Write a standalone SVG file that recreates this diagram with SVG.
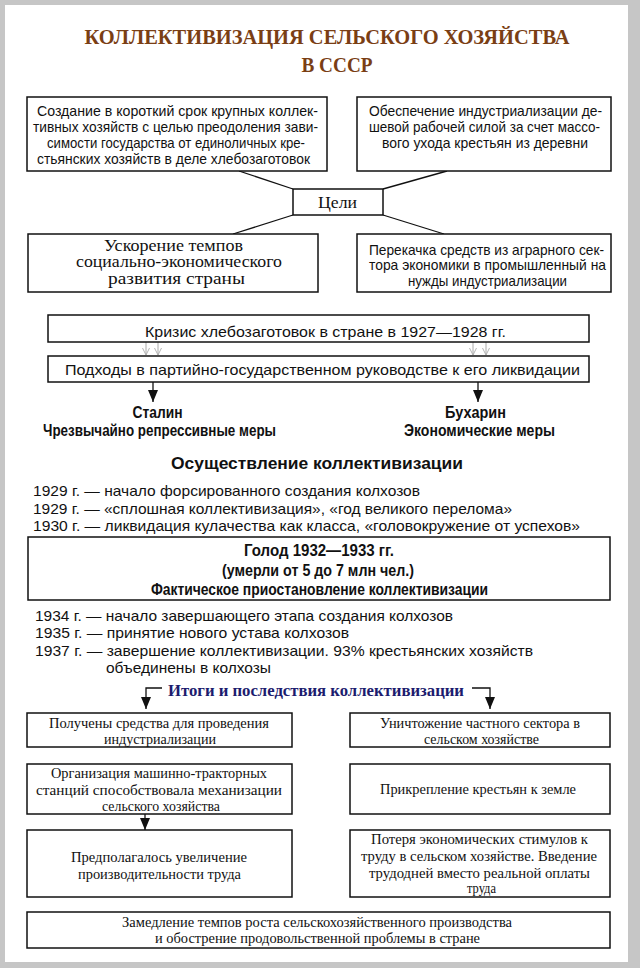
<svg xmlns="http://www.w3.org/2000/svg" width="640" height="968" viewBox="0 0 640 968">
<defs>
<style>
.box{fill:#fff;stroke:#111;stroke-width:1.5}
.ln{fill:none;stroke:#111;stroke-width:1.3}
.cn{font-family:"Liberation Sans Narrow","Liberation Sans",Arial,sans-serif;font-size:14.5px;fill:#111}
.cb{font-family:"Liberation Sans Narrow","Liberation Sans",Arial,sans-serif;font-size:16px;font-weight:bold;fill:#111}
.sr{font-family:"Liberation Serif","Times New Roman",serif;font-size:14.5px;fill:#111}
.c{text-anchor:middle}
</style>
<marker id="ah" viewBox="0 0 12 10" refX="12" refY="5" markerWidth="12" markerHeight="10" markerUnits="userSpaceOnUse" orient="auto">
<path d="M0,0 L12,5 L0,10 z" fill="#111"/>
</marker>
<marker id="ag" viewBox="0 0 8 8" refX="8" refY="4" markerWidth="7" markerHeight="8" markerUnits="userSpaceOnUse" orient="auto">
<path d="M0,0 L8,4 L0,8" fill="none" stroke="#aaa" stroke-width="1"/>
</marker>
</defs>
<rect x="0" y="0" width="640" height="968" fill="#c6c6c6"/>
<rect x="5" y="5" width="623" height="957" fill="#fff"/>

<g id="title" font-family="'Liberation Serif','Times New Roman',serif" font-weight="bold" font-size="20" fill="#7a3e14" text-anchor="middle">
<text x="327" y="44" textLength="485" lengthAdjust="spacingAndGlyphs">КОЛЛЕКТИВИЗАЦИЯ СЕЛЬСКОГО ХОЗЯЙСТВА</text>
<text x="337" y="72" textLength="71" lengthAdjust="spacingAndGlyphs">В СССР</text>
</g>

<g id="connectors">
<line class="ln" x1="239" y1="171" x2="293" y2="189"/>
<line class="ln" x1="447" y1="171" x2="383" y2="189"/>
<line class="ln" x1="293" y1="215" x2="233" y2="234"/>
<line class="ln" x1="383" y1="215" x2="444" y2="234"/>
<line x1="146" y1="342" x2="146" y2="355" stroke="#aaa" stroke-width="1" marker-end="url(#ag)"/>
<line x1="158" y1="342" x2="158" y2="355" stroke="#aaa" stroke-width="1" marker-end="url(#ag)"/>
<line x1="473" y1="342" x2="473" y2="355" stroke="#aaa" stroke-width="1" marker-end="url(#ag)"/>
<line x1="486" y1="342" x2="486" y2="355" stroke="#aaa" stroke-width="1" marker-end="url(#ag)"/>
<line class="ln" x1="153" y1="382" x2="153" y2="402" marker-end="url(#ah)"/>
<line class="ln" x1="478" y1="382" x2="478" y2="402" marker-end="url(#ah)"/>
<polyline class="ln" points="162,688 146,688 146,709" marker-end="url(#ah)"/>
<polyline class="ln" points="472,688 490,688 490,709" marker-end="url(#ah)"/>
<line class="ln" x1="145" y1="814" x2="145" y2="830" marker-end="url(#ah)"/>
</g>

<g id="goal1">
<rect class="box" x="27" y="97" width="300" height="74"/>
<text class="cn c" x="177.5" y="116" textLength="281" lengthAdjust="spacingAndGlyphs">Создание в короткий срок крупных коллек-</text>
<text class="cn c" x="175.5" y="132" textLength="285" lengthAdjust="spacingAndGlyphs">тивных хозяйств с целью преодоления зави-</text>
<text class="cn c" x="176" y="148" textLength="258" lengthAdjust="spacingAndGlyphs">симости государства от единоличных кре-</text>
<text class="cn c" x="173.5" y="164" textLength="273" lengthAdjust="spacingAndGlyphs">стьянских хозяйств в деле хлебозаготовок</text>
</g>

<g id="goal2">
<rect class="box" x="357" y="97" width="254" height="74"/>
<text class="cn c" x="485.5" y="116" textLength="233" lengthAdjust="spacingAndGlyphs">Обеспечение индустриализации де-</text>
<text class="cn c" x="484.5" y="132" textLength="231" lengthAdjust="spacingAndGlyphs">шевой рабочей силой за счет массо-</text>
<text class="cn c" x="485" y="148" textLength="206" lengthAdjust="spacingAndGlyphs">вого ухода крестьян из деревни</text>
</g>

<g id="goals">
<rect class="box" x="293" y="189" width="90" height="26"/>
<text class="c" x="337.5" y="208" font-family="'Liberation Serif','Times New Roman',serif" font-size="17" fill="#111" textLength="39" lengthAdjust="spacingAndGlyphs">Цели</text>
</g>

<g id="goal3">
<rect class="box" x="28" y="234" width="290" height="58"/>
<g font-family="'Liberation Serif','Times New Roman',serif" font-size="16" fill="#111" text-anchor="middle">
<text x="173.5" y="251" textLength="139" lengthAdjust="spacingAndGlyphs">Ускорение темпов</text>
<text x="179" y="267" textLength="206" lengthAdjust="spacingAndGlyphs">социально-экономического</text>
<text x="176.5" y="284" textLength="137" lengthAdjust="spacingAndGlyphs">развития страны</text>
</g>
</g>

<g id="goal4">
<rect class="box" x="357" y="234" width="254" height="58"/>
<text class="cn c" x="486.5" y="255" textLength="235" lengthAdjust="spacingAndGlyphs">Перекачка средств из аграрного сек-</text>
<text class="cn c" x="487.5" y="270" textLength="237" lengthAdjust="spacingAndGlyphs">тора экономики в промышленный на</text>
<text class="cn c" x="487.5" y="286" textLength="159" lengthAdjust="spacingAndGlyphs">нужды индустриализации</text>
</g>

<g id="crisis">
<rect class="box" x="48" y="315" width="541" height="27"/>
<text class="cn c" x="325.5" y="337" font-size="16" textLength="361" lengthAdjust="spacingAndGlyphs">Кризис хлебозаготовок в стране в 1927—1928 гг.</text>
</g>

<g id="approaches">
<rect class="box" x="48" y="356" width="541" height="26"/>
<text class="cn c" x="322.5" y="375" font-size="16" textLength="515" lengthAdjust="spacingAndGlyphs">Подходы в партийно-государственном руководстве  к его ликвидации</text>
</g>

<g id="stalin">
<text class="cb c" x="157.5" y="418" textLength="50" lengthAdjust="spacingAndGlyphs">Сталин</text>
<text class="cb c" x="159.5" y="436" textLength="233" lengthAdjust="spacingAndGlyphs">Чрезвычайно репрессивные меры</text>
</g>

<g id="bukharin">
<text class="cb c" x="475.5" y="418" textLength="61" lengthAdjust="spacingAndGlyphs">Бухарин</text>
<text class="cb c" x="479.5" y="436" textLength="151" lengthAdjust="spacingAndGlyphs">Экономические меры</text>
</g>

<g id="implementation">
<text class="cb c" x="317" y="469" font-size="20" textLength="292" lengthAdjust="spacingAndGlyphs">Осуществление коллективизации</text>
<text class="cn" x="33" y="496" font-size="16" textLength="387" lengthAdjust="spacingAndGlyphs">1929 г. — начало форсированного создания колхозов</text>
<text class="cn" x="33" y="513.5" font-size="16" textLength="479" lengthAdjust="spacingAndGlyphs">1929 г. — «сплошная коллективизация», «год великого перелома»</text>
<text class="cn" x="33" y="531" font-size="16" textLength="547" lengthAdjust="spacingAndGlyphs">1930 г. — ликвидация кулачества как класса, «головокружение от успехов»</text>
</g>

<g id="famine">
<rect class="box" x="28" y="537" width="582" height="63"/>
<text class="cb c" x="319" y="555.5" font-size="15" textLength="150" lengthAdjust="spacingAndGlyphs">Голод 1932—1933 гг.</text>
<text class="cb c" x="318" y="575.5" font-size="15" textLength="192" lengthAdjust="spacingAndGlyphs">(умерли от 5 до 7 млн чел.)</text>
<text class="cb c" x="319.5" y="595" font-size="15" textLength="337" lengthAdjust="spacingAndGlyphs">Фактическое приостановление коллективизации</text>
</g>

<g id="completion">
<text class="cn" x="35" y="620.5" font-size="16" textLength="418" lengthAdjust="spacingAndGlyphs">1934 г. — начало завершающего этапа создания колхозов</text>
<text class="cn" x="35" y="637.5" font-size="16" textLength="314" lengthAdjust="spacingAndGlyphs">1935 г. — принятие нового устава колхозов</text>
<text class="cn" x="35" y="655.5" font-size="16" textLength="498" lengthAdjust="spacingAndGlyphs">1937 г. — завершение коллективизации. 93% крестьянских хозяйств</text>
<text class="cn" x="106" y="672.5" font-size="16" textLength="165" lengthAdjust="spacingAndGlyphs">объединены в колхозы</text>
</g>

<g id="results-title">
<text class="c" x="316" y="696" font-family="'Liberation Serif','Times New Roman',serif" font-weight="bold" font-size="17" fill="#1c1c6e" textLength="296" lengthAdjust="spacingAndGlyphs">Итоги и последствия коллективизации</text>
</g>

<g id="res-l1">
<rect class="box" x="27" y="713" width="265" height="34"/>
<text class="sr c" x="159" y="727.5" textLength="220" lengthAdjust="spacingAndGlyphs">Получены средства для проведения</text>
<text class="sr c" x="160" y="744" textLength="112" lengthAdjust="spacingAndGlyphs">индустриализации</text>
</g>

<g id="res-r1">
<rect class="box" x="350" y="713" width="260" height="34"/>
<text class="sr c" x="480" y="727.5" textLength="200" lengthAdjust="spacingAndGlyphs">Уничтожение частного сектора в</text>
<text class="sr c" x="481.5" y="744" textLength="115" lengthAdjust="spacingAndGlyphs">сельском хозяйстве</text>
</g>

<g id="res-l2">
<rect class="box" x="27" y="764" width="265" height="50"/>
<text class="sr c" x="159" y="777.5" textLength="216" lengthAdjust="spacingAndGlyphs">Организация машинно-тракторных</text>
<text class="sr c" x="159" y="794.5" textLength="246" lengthAdjust="spacingAndGlyphs">станций способствовала механизации</text>
<text class="sr c" x="161" y="811" textLength="118" lengthAdjust="spacingAndGlyphs">сельского хозяйства</text>
</g>

<g id="res-r2">
<rect class="box" x="350" y="764" width="260" height="50"/>
<text class="sr c" x="478" y="793.5" textLength="196" lengthAdjust="spacingAndGlyphs">Прикрепление крестьян к земле</text>
</g>

<g id="res-l3">
<rect class="box" x="27" y="830" width="265" height="67"/>
<text class="sr c" x="159" y="861.5" textLength="176" lengthAdjust="spacingAndGlyphs">Предполагалось увеличение</text>
<text class="sr c" x="159.5" y="878.5" textLength="163" lengthAdjust="spacingAndGlyphs">производительности труда</text>
</g>

<g id="res-r3">
<rect class="box" x="350" y="830" width="260" height="67"/>
<text class="sr c" x="479.5" y="843.5" textLength="217" lengthAdjust="spacingAndGlyphs">Потеря экономических стимулов к</text>
<text class="sr c" x="479" y="860.5" textLength="236" lengthAdjust="spacingAndGlyphs">труду в сельском хозяйстве. Введение</text>
<text class="sr c" x="479.5" y="877.5" textLength="221" lengthAdjust="spacingAndGlyphs">трудодней вместо реальной оплаты</text>
<text class="sr c" x="481.5" y="893" textLength="29" lengthAdjust="spacingAndGlyphs">труда</text>
</g>

<g id="res-bottom">
<rect class="box" x="27" y="912" width="583" height="36"/>
<text class="sr c" x="317" y="926.5" textLength="390" lengthAdjust="spacingAndGlyphs">Замедление темпов роста сельскохозяйственного производства</text>
<text class="sr c" x="317.5" y="943" textLength="325" lengthAdjust="spacingAndGlyphs">и обострение продовольственной проблемы в стране</text>
</g>
</svg>
